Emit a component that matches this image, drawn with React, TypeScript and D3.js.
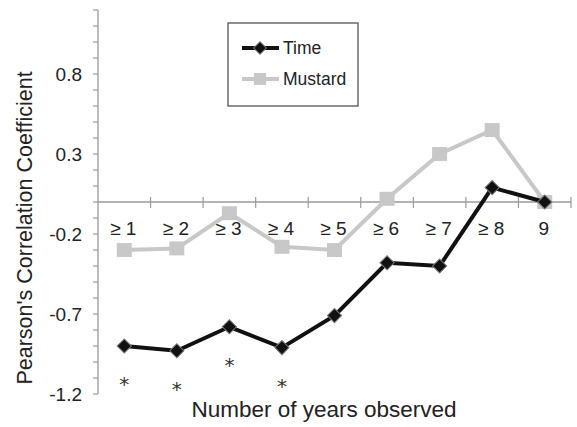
import React from "react";
import * as d3 from "d3";

const categories = ["≥ 1", "≥ 2", "≥ 3", "≥ 4", "≥ 5", "≥ 6", "≥ 7", "≥ 8", "9"];
const timeValues = [-0.9, -0.93, -0.78, -0.91, -0.71, -0.38, -0.4, 0.09, 0.0];
const mustardValues = [-0.3, -0.29, -0.07, -0.28, -0.3, 0.02, 0.3, 0.45, 0.0];
const yTickLabels = [0.8, 0.3, -0.2, -0.7, -1.2];
// significance marks under the Time series
const starCategories = ["≥ 1", "≥ 2", "≥ 3", "≥ 4"];

const W = 577;
const H = 427;
const font = "'Liberation Sans', Arial, Helvetica, sans-serif";

export default function App() {
  const x = d3.scaleBand().domain(categories).range([98, 571]).padding(0);
  const y = d3.scaleLinear().domain([-1.2, 1.2]).range([394, 10]);
  const cx = (c: string) => (x(c) as number) + x.bandwidth() / 2;

  const line = d3
    .line<number>()
    .x((_, i) => cx(categories[i]))
    .y((d) => y(d));

  const minorTicks = d3.range(-12, 13).map((d) => d / 10);
  const axisColor = "#9a9a9a";
  const y0 = y(0);

  return (
    <svg
      width={W}
      height={H}
      style={{ position: "absolute", left: 0, top: 0, background: "#fff" }}
    >
      {/* y axis */}
      <line x1={98} x2={98} y1={y(1.2)} y2={y(-1.2)} stroke={axisColor} strokeWidth={1.3} />
      {minorTicks.map((t) => (
        <line key={t} x1={93} x2={98} y1={y(t)} y2={y(t)} stroke={axisColor} strokeWidth={1.2} />
      ))}
      {yTickLabels.map((t) => (
        <text
          key={t}
          x={82}
          y={y(t)}
          dy="0.36em"
          textAnchor="end"
          fontFamily={font}
          fontSize={19}
          fill="#222"
        >
          {t.toFixed(1)}
        </text>
      ))}

      {/* x axis at zero */}
      <line x1={98} x2={571} y1={y0} y2={y0} stroke={axisColor} strokeWidth={1.3} />
      {categories.map((c) => (
        <line
          key={c}
          x1={(x(c) as number) + x.bandwidth()}
          x2={(x(c) as number) + x.bandwidth()}
          y1={y0 - 5}
          y2={y0 + 6}
          stroke={axisColor}
          strokeWidth={1.2}
        />
      ))}
      {categories.map((c) => (
        <text
          key={c}
          x={cx(c) - 1}
          y={235}
          textAnchor="middle"
          fontFamily={font}
          fontSize={19}
          fill="#222"
        >
          {c}
        </text>
      ))}

      {/* Mustard */}
      <path d={line(mustardValues) as string} fill="none" stroke="#c8c8c8" strokeWidth={4} />
      {mustardValues.map((v, i) => (
        <rect
          key={i}
          x={cx(categories[i]) - 7.5}
          y={y(v) - 7}
          width={15}
          height={14}
          fill="#c8c8c8"
        />
      ))}

      {/* Time */}
      <path d={line(timeValues) as string} fill="none" stroke="#111" strokeWidth={4} />
      {timeValues.map((v, i) => (
        <rect
          key={i}
          x={-5}
          y={-5}
          width={10}
          height={10}
          fill="#111"
          stroke="#777"
          strokeWidth={1}
          transform={`translate(${cx(categories[i])},${y(v)}) rotate(45)`}
        />
      ))}

      {starCategories.map((c) => {
        const v = timeValues[categories.indexOf(c)];
        return (
          <text
            key={c}
            x={cx(c)}
            y={y(v) + 45}
            textAnchor="middle"
            fontFamily="'DejaVu Sans', sans-serif"
            fontSize={20}
            fill="#333"
          >
            *
          </text>
        );
      })}

      {/* legend */}
      <rect x={228} y={23} width={130} height={83} fill="#fff" stroke="#555" strokeWidth={1.3} />
      <line x1={242} x2={279} y1={48} y2={48} stroke="#111" strokeWidth={4} />
      <rect x={-4.5} y={-4.5} width={9} height={9} fill="#111" stroke="#777" transform="translate(260,48) rotate(45)" />
      <text x={283} y={54} fontFamily={font} fontSize={17.5} fill="#222">
        Time
      </text>
      <line x1={242} x2={279} y1={79} y2={79} stroke="#c8c8c8" strokeWidth={4} />
      <rect x={254} y={73} width={12} height={12} fill="#c8c8c8" />
      <text x={283} y={85} fontFamily={font} fontSize={17.5} fill="#222">
        Mustard
      </text>

      {/* axis titles */}
      <text
        x={324}
        y={417}
        textAnchor="middle"
        fontFamily={font}
        fontSize={22.5}
        fill="#222"
      >
        Number of years observed
      </text>
      <text
        transform="translate(32,228) rotate(-90)"
        textAnchor="middle"
        fontFamily={font}
        fontSize={21.5}
        fill="#222"
      >
        Pearson's Correlation Coefficient
      </text>
    </svg>
  );
}
